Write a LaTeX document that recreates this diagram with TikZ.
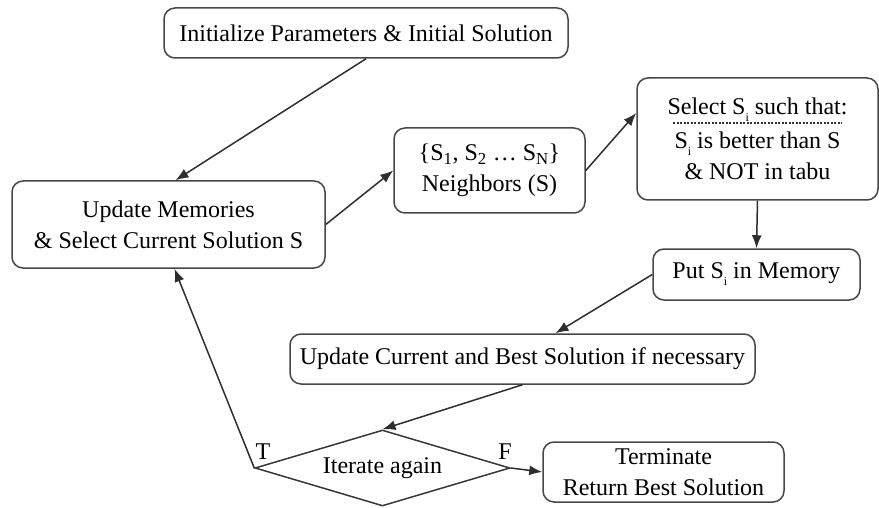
\documentclass[tikz,border=0pt]{standalone}
\usepackage{fontspec}
\setmainfont{Liberation Serif}
\usetikzlibrary{arrows.meta,shapes.geometric,calc}
% low-set index letter used after S
\newcommand{\lowidx}[1]{\raisebox{-7pt}{\fontsize{12}{12}\selectfont #1}}
\begin{document}
\begin{tikzpicture}[x=1pt,y=-1pt,
  box/.style={draw=black!72, line width=1.5pt, rounded corners=11pt, align=center,
    inner sep=0pt, fill=white, font=\fontsize{24}{31}\selectfont},
  decision/.style={draw=black!78, line width=1.5pt, diamond, aspect=3.36, inner sep=0pt,
    minimum width=255pt, minimum height=76pt, font=\fontsize{24}{31}\selectfont},
  link/.style={draw=black!82, line width=1.5pt, -{Latex[length=13pt,width=10pt]}},
  lbl/.style={inner sep=0pt, font=\fontsize{24}{28}\selectfont}]
\useasboundingbox (0,0) rectangle (879,508);

% process boxes
\node[box, minimum width=404pt, minimum height=50pt] (init) at (366,33)
  {Initialize Parameters \& Initial Solution};
\node[box, minimum width=313pt, minimum height=87pt] (update) at (168.5,224.5)
  {Update Memories\\\& Select Current Solution S};
\node[box, minimum width=191pt, minimum height=85pt] (neigh) at (489.5,170.5)
  {\{S\textsubscript{1}, S\textsubscript{2} \dots\ S\textsubscript{N}\}\\Neighbors (S)};
\node[box, minimum width=241pt, minimum height=122pt] (select) at (757.5,139)
  {Select S\lowidx{i} such that:\\[3pt]S\lowidx{i} is better than S\\\& NOT in tabu};
\draw[black!80, line width=1.2pt, dash pattern=on 2pt off 1.5pt] (673,123) -- (842,123);
\node[box, minimum width=207pt, minimum height=51pt] (mem) at (756.5,274.5)
  {Put S\lowidx{i} in Memory};
\node[box, minimum width=465pt, minimum height=50pt] (best) at (522.5,359)
  {Update Current and Best Solution if necessary};
\node[decision] (iter) at (382.5,468) {Iterate again};
\node[box, minimum width=241pt, minimum height=60pt] (stop) at (663.5,472)
  {Terminate\\Return Best Solution};

% connectors
\draw[link] (init.south) -- ([xshift=7pt]update.north);
\draw[link] (update.east) -- (neigh.west);
\draw[link] (neigh.east) -- ([yshift=26pt]select.west);
\draw[link] (select.south) -- (mem.north);
\draw[link] (mem.west) -- ([xshift=33pt]best.north);
\draw[link] (best.south) -- (iter.north);
\draw[link] (iter.west) -- ([xshift=6pt]update.south);
\draw[link] (iter.east) -- (stop.west);

% branch labels
\node[lbl] (tlabel) at (263,452) {T};
\node[lbl] (flabel) at (505,452) {F};
\end{tikzpicture}
\end{document}
